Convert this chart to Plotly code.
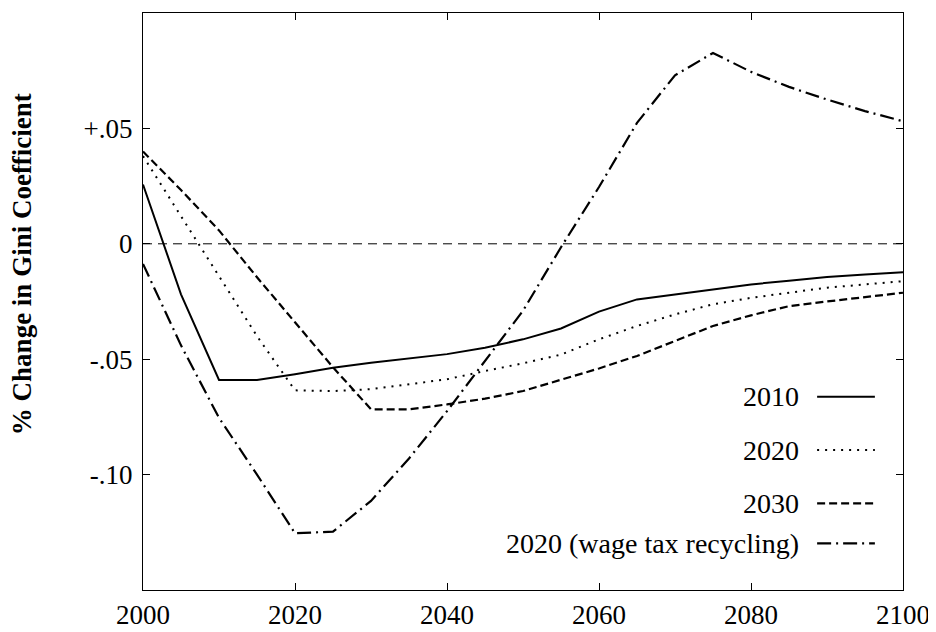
import plotly.graph_objects as go

years = list(range(2000, 2101, 5))
s2010 = [0.0257, -0.0219, -0.059, -0.059, -0.0565, -0.0537, -0.0515, -0.0497, -0.0478, -0.045, -0.0414,
         -0.0367, -0.0294, -0.0241, -0.0219, -0.0197, -0.0176, -0.016, -0.0144, -0.0133, -0.0123]
s2020 = [0.038, 0.012, -0.014, -0.040, -0.0635, -0.0638, -0.063, -0.061, -0.0587, -0.0551, -0.0518,
         -0.048, -0.0414, -0.0356, -0.0306, -0.0262, -0.0234, -0.0212, -0.019, -0.0176, -0.0162]
s2030 = [0.040, 0.0233, 0.0058, -0.0145, -0.034, -0.0535, -0.0717, -0.0717, -0.0696, -0.0671, -0.0638,
         -0.059, -0.054, -0.0486, -0.0421, -0.0356, -0.031, -0.027, -0.025, -0.023, -0.0212]
wage = [-0.0087, -0.044, -0.0754, -0.100, -0.1254, -0.1247, -0.1114, -0.093, -0.0725, -0.0508, -0.029,
        -0.0015, 0.0246, 0.0524, 0.073, 0.0827, 0.0745, 0.068, 0.0625, 0.0575, 0.0531]

series_names = ["2010", "2020", "2030", "2020 (wage tax recycling)"]
series_values = [s2010, s2020, s2030, wage]
dashes = ["solid", "2px,6px", "8px,4px", "14px,5px,2px,5px"]
widths = [2, 2, 2.2, 2.2]

x_tickvals = [2000, 2020, 2040, 2060, 2080, 2100]
y_tickvals = [0.05, 0.0, -0.05, -0.10]
y_ticktext = ["+.05", "0", "-.05", "-.10"]

FONT = "Liberation Serif"

fig = go.Figure()
for name, vals, d, w in zip(series_names, series_values, dashes, widths):
    fig.add_trace(go.Scatter(x=years, y=vals, mode="lines", name=name,
                             line=dict(color="black", width=w, dash=d), showlegend=False))

# zero reference line
fig.add_shape(type="line", xref="x", yref="y", x0=2000, x1=2100, y0=0, y1=0,
              line=dict(color="black", width=1, dash="9px,6px"), layer="below")

# custom legend (text right-aligned, sample line to the right)
leg_y = [0.3348, 0.2425, 0.1502, 0.0809]
for name, d, w, yy in zip(series_names, dashes, widths, leg_y):
    fig.add_annotation(xref="paper", yref="paper", x=0.866, y=yy, text=name, showarrow=False,
                       xanchor="right", yanchor="middle", font=dict(family=FONT, size=28, color="black"))
    fig.add_shape(type="line", xref="paper", yref="paper", x0=0.887, x1=0.963, y0=yy, y1=yy,
                  line=dict(color="black", width=w, dash=d))

fig.add_annotation(xref="paper", yref="paper", x=-0.159, y=0.565, text="<b>% Change in Gini Coefficient</b>",
                   textangle=-90, showarrow=False, xanchor="center", yanchor="middle",
                   font=dict(family=FONT, size=27, color="black"))

fig.update_layout(
    width=936, height=632,
    margin=dict(l=135, r=41, t=5, b=50, autoexpand=False),
    paper_bgcolor="white", plot_bgcolor="white",
    font=dict(family=FONT, size=27, color="black"),
)
fig.update_xaxes(range=[2000, 2100], tickvals=x_tickvals, ticks="inside", ticklen=7, tickcolor="black",
                 showline=True, linecolor="black", linewidth=1.2, mirror="allticks", showgrid=False,
                 zeroline=False, automargin=False, tickfont=dict(family=FONT, size=27, color="black"))
fig.update_yaxes(range=[-0.15, 0.1], tickvals=y_tickvals, ticktext=y_ticktext, ticks="inside", ticklen=7,
                 tickcolor="black", showline=True, linecolor="black", linewidth=1.2, mirror="allticks",
                 showgrid=False, zeroline=False, automargin=False, ticklabelstandoff=4,
                 tickfont=dict(family=FONT, size=27, color="black"))

fig.write_html("out.html")
